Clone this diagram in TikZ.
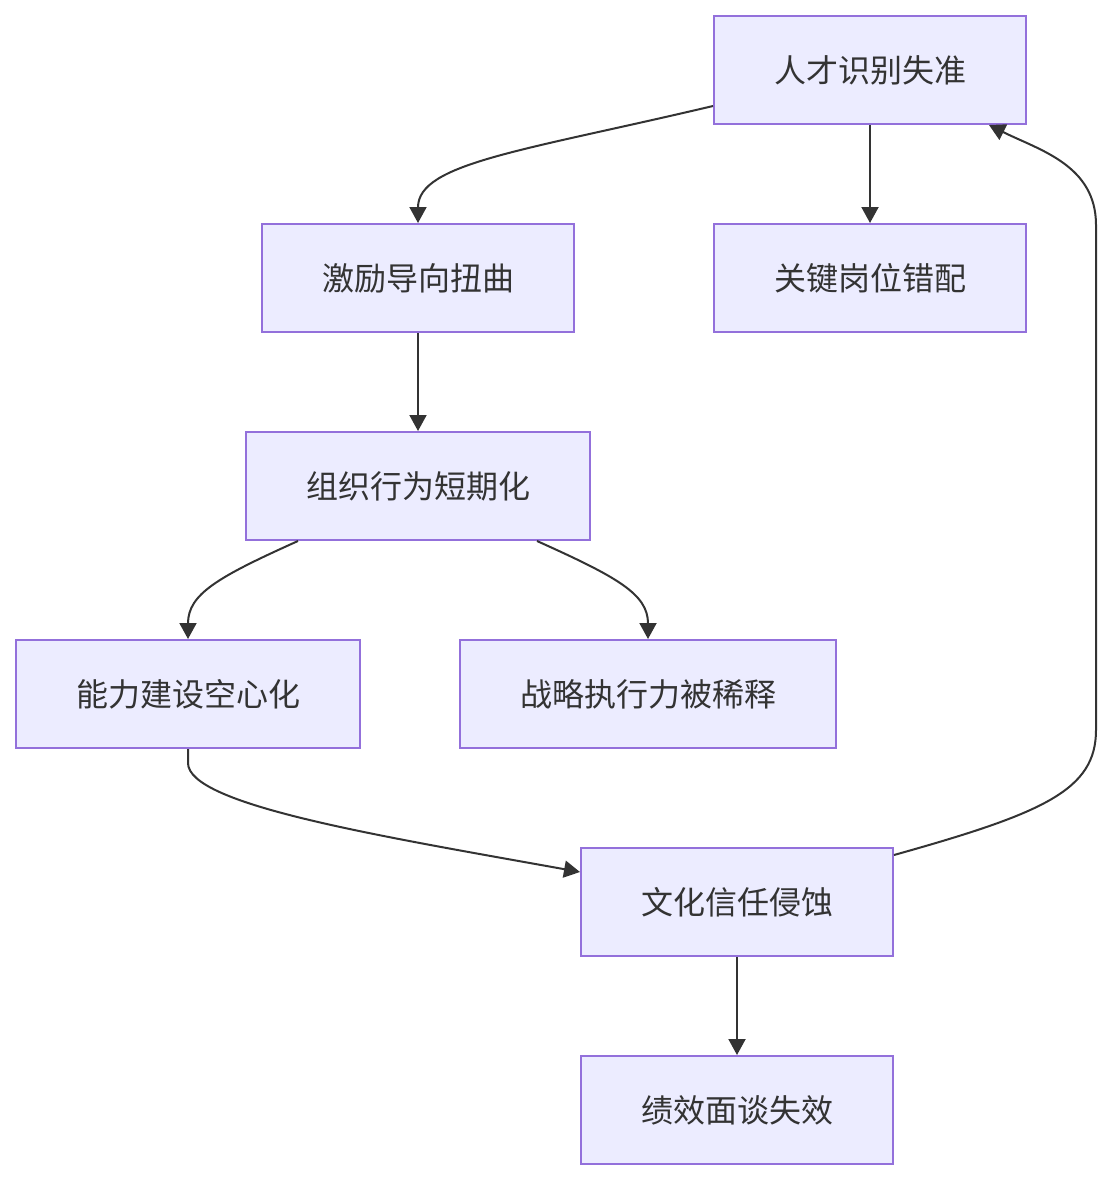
\documentclass[tikz,border=0pt]{standalone}
\usepackage{fontspec}
\newfontfamily\cjk{Noto Sans CJK SC}
\usetikzlibrary{arrows.meta,calc}
\definecolor{boxfill}{HTML}{ECECFF}
\definecolor{boxline}{HTML}{9370DB}
\definecolor{ink}{HTML}{333333}
\tikzset{
  box/.style={draw=boxline, fill=boxfill, line width=2pt, minimum height=108pt, inner sep=0pt,
    text=ink, font=\cjk\fontsize{32}{38}\selectfont},
  link/.style={draw=ink, line width=2pt, -{Triangle[length=16pt,width=17pt]}}
}
\begin{document}
\begin{tikzpicture}[x=1pt,y=-1pt]
\useasboundingbox (0,0) rectangle (1112,1180);
\node[box, minimum width=312pt] (n1) at (870,70) {人才识别失准};
\node[box, minimum width=312pt] (n2) at (418,278) {激励导向扭曲};
\node[box, minimum width=312pt] (n3) at (870,278) {关键岗位错配};
\node[box, minimum width=344pt] (n4) at (418,486) {组织行为短期化};
\node[box, minimum width=344pt] (n5) at (188,694) {能力建设空心化};
\node[box, minimum width=376pt] (n6) at (648,694) {战略执行力被稀释};
\node[box, minimum width=312pt] (n7) at (737,902) {文化信任侵蚀};
\node[box, minimum width=312pt] (n8) at (737,1110) {绩效面谈失效};

\draw[link] ([yshift=-36pt]n1.west) .. controls +(-190,45) and +(0,-60) .. (n2.north);
\draw[link] (n1.south) -- (n3.north);
\draw[link] (n2.south) -- (n4.north);
\draw[link] ([xshift=-120pt]n4.south) .. controls +(-80,36) and +(0,-45) .. (n5.north);
\draw[link] ([xshift=119pt]n4.south) .. controls +(80,36) and +(0,-45) .. (n6.north);
\draw[link] (n5.south) -- ++(0,14) .. controls +(0,42) and +(-200,-36) .. ([yshift=30pt]n7.west);
\draw[link] ([yshift=-8pt]n7.north east) .. controls +(150,-42) and +(0,60) .. (1096,730) -- (1096,225)
  .. controls +(0,-60) and +(50,25) .. ([xshift=-38pt]n1.south east);
\draw[link] (n7.south) -- (n8.north);
\end{tikzpicture}
\end{document}
